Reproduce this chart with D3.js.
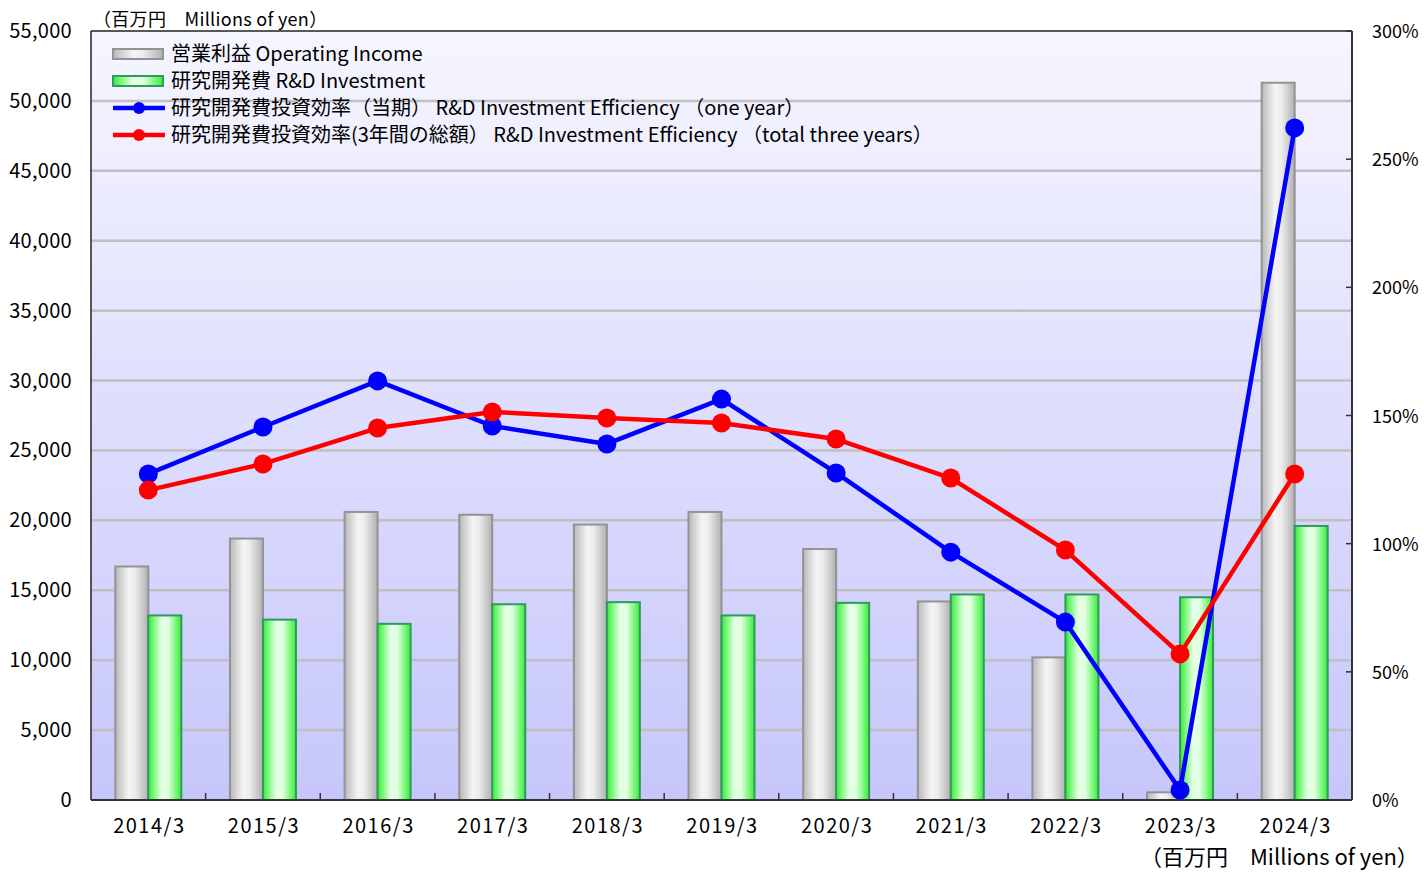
<!DOCTYPE html>
<html>
<head>
<meta charset="utf-8">
<script src="https://cdn.jsdelivr.net/npm/d3@7"></script>
<style>
  body { margin: 0; background: #fff; overflow: hidden; }
  svg text { font-family: "Noto Sans CJK JP", "Noto Sans", sans-serif; fill: #000; }
</style>
</head>
<body>
<svg id="chart" width="1424" height="872"></svg>
<script>
// data
const years = ["2014/3", "2015/3", "2016/3", "2017/3", "2018/3", "2019/3", "2020/3", "2021/3", "2022/3", "2023/3", "2024/3"];
const operatingIncome = [16700, 18700, 20600, 20400, 19700, 20600, 17950, 14200, 10200, 550, 51300];
const rdInvestment = [13200, 12900, 12600, 14000, 14150, 13200, 14100, 14700, 14700, 14500, 19600];
const effOneYear = [127.2, 145.5, 163.5, 145.9, 138.9, 156.4, 127.6, 96.7, 69.4, 3.9, 262.2];
const effThreeYears = [120.9, 131.1, 145.1, 151.4, 149.0, 147.1, 140.8, 125.6, 97.5, 57.0, 127.2];
const leftTicks = d3.range(0, 55001, 5000);
const rightTicks = d3.range(0, 301, 50);
const legendLabels = [
  "営業利益 Operating Income",
  "研究開発費 R&D Investment",
  "研究開発費投資効率（当期） R&D Investment Efficiency （one year）",
  "研究開発費投資効率(3年間の総額） R&D Investment Efficiency （total three years）"
];

const svg = d3.select("#chart");
const margin = { top: 31, right: 72, bottom: 72, left: 91 };
const width = 1424 - margin.left - margin.right;
const height = 872 - margin.top - margin.bottom;

const defs = svg.append("defs");
const bg = defs.append("linearGradient").attr("id", "bg").attr("x1", 0).attr("y1", 0).attr("x2", 0).attr("y2", 1);
bg.append("stop").attr("offset", "0%").attr("stop-color", "#f6f6ff");
bg.append("stop").attr("offset", "100%").attr("stop-color", "#c6c6fb");

const grayGrad = defs.append("linearGradient").attr("id", "grayBar");
grayGrad.append("stop").attr("offset", "0%").attr("stop-color", "#b8b8b8");
grayGrad.append("stop").attr("offset", "40%").attr("stop-color", "#f4f4f4");
grayGrad.append("stop").attr("offset", "60%").attr("stop-color", "#ececec");
grayGrad.append("stop").attr("offset", "100%").attr("stop-color", "#b0b0b0");

const greenGrad = defs.append("linearGradient").attr("id", "greenBar");
greenGrad.append("stop").attr("offset", "0%").attr("stop-color", "#33f033");
greenGrad.append("stop").attr("offset", "40%").attr("stop-color", "#e6ffe6");
greenGrad.append("stop").attr("offset", "60%").attr("stop-color", "#e0ffe0");
greenGrad.append("stop").attr("offset", "100%").attr("stop-color", "#33f033");

const g = svg.append("g").attr("transform", `translate(${margin.left},${margin.top})`);

const x = d3.scaleBand().domain(years).range([0, width]);
const y = d3.scaleLinear().domain([0, 55000]).range([height, 0]);
const y2 = d3.scaleLinear().domain([0, 300]).range([height, 0]);

g.append("rect").attr("width", width).attr("height", height).attr("fill", "url(#bg)");

// gridlines
g.selectAll(".grid")
  .data(leftTicks.filter(d => d > 0 && d < 55000))
  .enter()
  .append("line")
  .attr("x1", 0).attr("x2", width)
  .attr("y1", d => y(d)).attr("y2", d => y(d))
  .attr("stroke", "#c0c0c0")
  .attr("stroke-width", 2.5);

// bars
const barW = 33;
g.selectAll(".bar-op")
  .data(operatingIncome)
  .enter()
  .append("rect")
  .attr("x", (d, i) => x(years[i]) + x.bandwidth() / 2 - barW)
  .attr("y", d => y(d))
  .attr("width", barW)
  .attr("height", d => height - y(d))
  .attr("fill", "url(#grayBar)")
  .attr("stroke", "#939393")
  .attr("stroke-width", 2);

g.selectAll(".bar-rd")
  .data(rdInvestment)
  .enter()
  .append("rect")
  .attr("x", (d, i) => x(years[i]) + x.bandwidth() / 2)
  .attr("y", d => y(d))
  .attr("width", barW)
  .attr("height", d => height - y(d))
  .attr("fill", "url(#greenBar)")
  .attr("stroke", "#2f9960")
  .attr("stroke-width", 2);

// plot border
g.append("line").attr("x1", 0).attr("x2", width).attr("y1", 0).attr("y2", 0).attr("stroke", "#222").attr("stroke-width", 1.5);
g.append("line").attr("x1", 0).attr("x2", 0).attr("y1", 0).attr("y2", height).attr("stroke", "#222").attr("stroke-width", 1.5);
g.append("line").attr("x1", width).attr("x2", width).attr("y1", 0).attr("y2", height).attr("stroke", "#333").attr("stroke-width", 2);
g.append("line").attr("x1", 0).attr("x2", width).attr("y1", height).attr("y2", height).attr("stroke", "#333").attr("stroke-width", 2);

// category ticks
g.selectAll(".xtick")
  .data(years.slice(1))
  .enter()
  .append("line")
  .attr("x1", d => x(d)).attr("x2", d => x(d))
  .attr("y1", height - 7).attr("y2", height)
  .attr("stroke", "#333").attr("stroke-width", 1.5);

// right axis ticks
g.selectAll(".rtick")
  .data(rightTicks)
  .enter()
  .append("line")
  .attr("x1", width - 6).attr("x2", width)
  .attr("y1", d => y2(d)).attr("y2", d => y2(d))
  .attr("stroke", "#333").attr("stroke-width", 1.5);

// axis labels
g.selectAll(".ylab")
  .data(leftTicks)
  .enter()
  .append("text")
  .attr("x", -19)
  .attr("y", d => y(d) + 7)
  .attr("text-anchor", "end")
  .attr("font-size", 20)
  .attr("letter-spacing", 0.3)
  .text(d => d3.format(",")(d));

g.selectAll(".y2lab")
  .data(rightTicks)
  .enter()
  .append("text")
  .attr("x", width + 20)
  .attr("y", d => y2(d) + 7)
  .attr("font-size", 18)
  .text(d => d + "%");

g.selectAll(".xlab")
  .data(years)
  .enter()
  .append("text")
  .attr("x", d => x(d) + x.bandwidth() / 2 + 1)
  .attr("y", height + 33)
  .attr("text-anchor", "middle")
  .attr("font-size", 20)
  .attr("letter-spacing", 1.5)
  .text(d => d);

svg.append("text").attr("x", 93).attr("y", 26).attr("font-size", 18).attr("letter-spacing", 0.3).text("（百万円　Millions of yen）");
svg.append("text").attr("x", 1140).attr("y", 865).attr("font-size", 22).text("（百万円　Millions of yen）");

// lines
const lineGen = d3.line()
  .x((d, i) => x(years[i]) + x.bandwidth() / 2)
  .y(d => y2(d));

[[effOneYear, "#0000ff"], [effThreeYears, "#ff0000"]].forEach(([vals, color]) => {
  g.append("path")
    .datum(vals)
    .attr("fill", "none")
    .attr("stroke", color)
    .attr("stroke-width", 4.5)
    .attr("stroke-linejoin", "round")
    .attr("d", lineGen);
  g.selectAll(null)
    .data(vals)
    .enter()
    .append("circle")
    .attr("cx", (d, i) => x(years[i]) + x.bandwidth() / 2)
    .attr("cy", d => y2(d))
    .attr("r", 9.5)
    .attr("fill", color);
});

// legend
const legend = svg.append("g").attr("transform", "translate(113,54)");
const rowH = 27;
legendLabels.forEach((label, i) => {
  const row = legend.append("g").attr("transform", `translate(0,${i * rowH})`);
  if (i === 0 || i === 1) {
    row.append("rect")
      .attr("x", 0).attr("y", -5).attr("width", 50).attr("height", 10)
      .attr("fill", i === 0 ? "url(#grayBar)" : "url(#greenBar)")
      .attr("stroke", i === 0 ? "#939393" : "#2f9960")
      .attr("stroke-width", 2);
  } else {
    const color = i === 2 ? "#0000ff" : "#ff0000";
    row.append("line").attr("x1", 0).attr("x2", 52).attr("y1", 0).attr("y2", 0)
      .attr("stroke", color).attr("stroke-width", 4.5);
    row.append("circle").attr("cx", 26).attr("cy", 0).attr("r", 6).attr("fill", color);
  }
  row.append("text")
    .attr("x", 58)
    .attr("y", 7)
    .attr("font-size", 20)
    .text(label);
});
</script>
</body>
</html>
